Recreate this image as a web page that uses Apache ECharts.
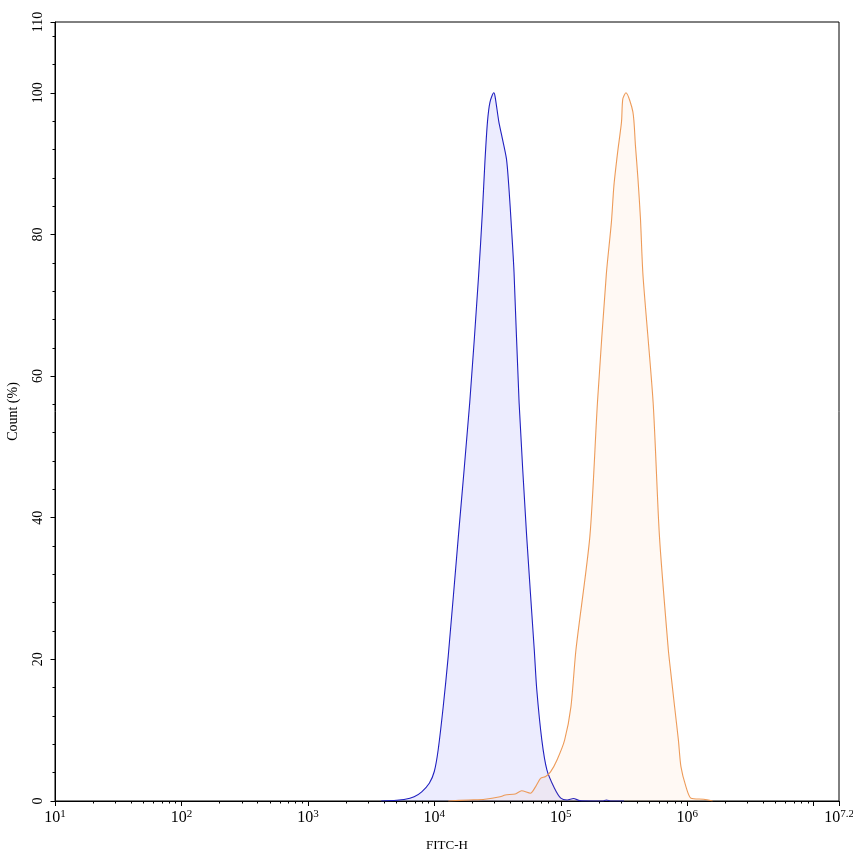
<!DOCTYPE html>
<html>
<head>
<meta charset="utf-8">
<script src="https://cdn.jsdelivr.net/npm/echarts@6/dist/echarts.min.js"></script>
<style>
html,body{margin:0;padding:0;background:#fff;}
#chart{width:853px;height:856px;}
</style>
</head>
<body>
<div id="chart"></div>
<script>
// x values are log10(FITC-H intensity)
var blueLogX = [3.58,3.70,3.76,3.84,3.90,3.96,4.00,4.03,4.07,4.11,4.19,4.28,4.35,4.38,4.40,4.42,4.44,4.47,4.48,4.51,4.53,4.57,4.59,4.61,4.63,4.67,4.73,4.79,4.81,4.85,4.89,4.95,5.00,5.05,5.10,5.15,5.25,5.33,5.36,5.40,5.50];
var bluePct  = [0,0.1,0.2,0.6,1.3,2.5,4.2,7.2,13.3,20.5,37.4,56.3,74.2,83.2,90.3,95.9,98.7,100,99.5,95.9,94.2,90.7,86.5,80.9,74.7,56.3,37.4,21.4,15.7,8.6,4.4,1.8,0.4,0.15,0.35,0.05,0,0,0.15,0,0];
var orangeLogX = [4.11,4.27,4.40,4.52,4.56,4.64,4.69,4.76,4.80,4.84,4.88,4.92,4.97,5.03,5.08,5.12,5.23,5.29,5.36,5.40,5.42,5.45,5.48,5.49,5.515,5.57,5.59,5.61,5.63,5.65,5.73,5.78,5.85,5.87,5.90,5.93,5.95,5.99,6.03,6.13,6.20];
var orangePct  = [0,0.15,0.25,0.6,0.85,1.0,1.45,1.1,2.0,3.2,3.45,4.15,5.8,8.6,13.3,21.4,37.4,56.3,74.4,81.7,86.9,91.7,95.9,99.1,100,97.3,92.6,87.9,82.2,74.2,56.3,37.4,21.4,18.1,13.3,8.6,4.85,2.0,0.4,0.25,0];
var xLabelExponents = [1,2,3,4,5,6,7.2];
var xMajorExponents = [1,2,3,4,5,6,7,7.2];
var yLabels = [0,20,40,60,80,100,110];
var xMin = 1, xMax = 7.2, yMin = 0, yMax = 110;

function pairs(xs, ys){ var o=[]; for(var i=0;i<xs.length;i++){o.push([xs[i],ys[i]]);} return o; }
var xMinor = [];
for (var d = 1; d <= 7; d++) {
  for (var k = 2; k <= 9; k++) {
    var v = d + Math.log10(k);
    if (v < xMax) xMinor.push(v);
  }
}
var yMinor = [];
for (var t = 0; t < yMax; t += 4) { if (t % 20 !== 0) yMinor.push(t); }

var serif = 'Liberation Serif';
var chart = echarts.init(document.getElementById('chart'), null, {renderer:'canvas'});
chart.setOption({
  animation: false,
  backgroundColor: '#fff',
  grid: {left:55, right:14, top:22, bottom:55, show:true, borderColor:'#000', borderWidth:1,
         backgroundColor:'transparent', containLabel:false, outerBoundsMode:'none'},
  xAxis: [{
    type:'value', min:xMin, max:xMax, position:'bottom',
    name:'FITC-H', nameLocation:'middle', nameGap:38,
    nameTextStyle:{fontFamily:serif, fontSize:13, color:'#000'},
    axisLine:{show:true, onZero:false, lineStyle:{color:'#000', width:1}},
    axisTick:{show:true, inside:false, length:5, customValues:xMajorExponents, lineStyle:{color:'#000'}},
    axisLabel:{show:true, margin:8, customValues:xLabelExponents, color:'#000', hideOverlap:false,
      formatter:function(v){ var e = Math.round(v*10)/10; return '{b|10}{s|' + e + '}'; },
      rich:{ b:{fontFamily:serif, fontSize:16, color:'#000', lineHeight:18},
             s:{fontFamily:serif, fontSize:11, color:'#000', verticalAlign:'top', lineHeight:12} } },
    splitLine:{show:false}
  },{
    type:'value', min:xMin, max:xMax, position:'bottom',
    axisLine:{show:false, onZero:false},
    axisTick:{show:true, inside:false, length:2.5, customValues:xMinor, lineStyle:{color:'#000'}},
    axisLabel:{show:false}, splitLine:{show:false}
  }],
  yAxis: [{
    type:'value', min:yMin, max:yMax, position:'left',
    name:'Count (%)', nameLocation:'middle', nameGap:35, nameRotate:90,
    nameTextStyle:{fontFamily:serif, fontSize:14, color:'#000'},
    axisLine:{show:true, lineStyle:{color:'#000', width:1}},
    axisTick:{show:true, inside:false, length:4.5, customValues:yLabels, lineStyle:{color:'#000'}},
    axisLabel:{show:true, rotate:90, margin:10, customValues:yLabels, fontFamily:serif, fontSize:14, color:'#000'},
    splitLine:{show:false}
  },{
    type:'value', min:yMin, max:yMax, position:'left',
    axisLine:{show:false},
    axisTick:{show:true, inside:false, length:2.5, customValues:yMinor, lineStyle:{color:'#000'}},
    axisLabel:{show:false}, splitLine:{show:false}
  }],
  series: [{
    type:'line', xAxisIndex:0, yAxisIndex:0, data:pairs(blueLogX, bluePct),
    symbol:'none', smooth:0.25,
    lineStyle:{color:'#2020c0', width:1.1},
    areaStyle:{color:'rgba(40,40,240,0.12)'},
    z:2
  },{
    type:'line', xAxisIndex:0, yAxisIndex:0, data:pairs(orangeLogX, orangePct),
    symbol:'none', smooth:0.25,
    lineStyle:{color:'rgba(236,150,80,0.95)', width:1.1},
    areaStyle:{color:'rgba(255,160,80,0.09)'},
    z:3
  }]
});
</script>
</body>
</html>
